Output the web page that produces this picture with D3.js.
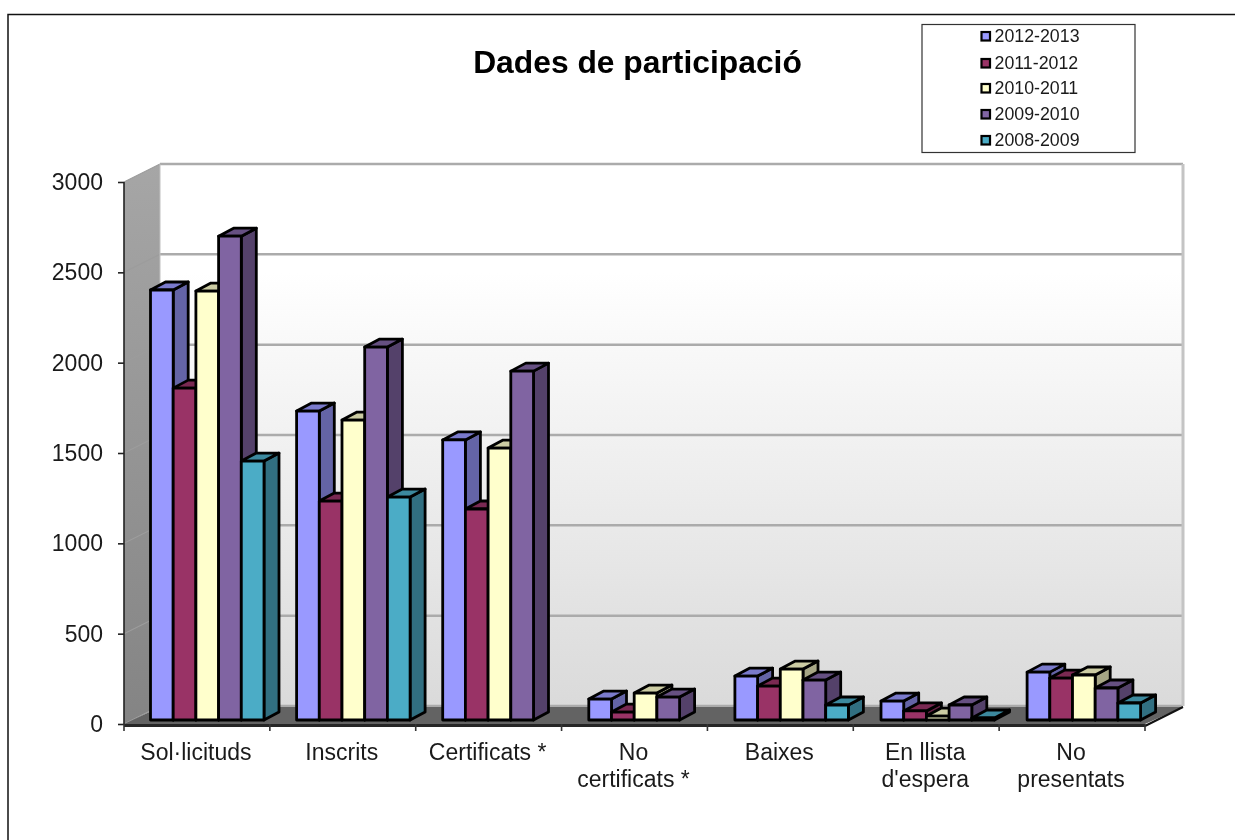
<!DOCTYPE html>
<html><head><meta charset="utf-8">
<script src="https://cdnjs.cloudflare.com/ajax/libs/d3/7.8.5/d3.min.js"></script>
<style>html,body{margin:0;padding:0;background:#fff;overflow:hidden}svg{display:block;filter:blur(0.35px)}text{font-family:"Liberation Sans",Arial,sans-serif;fill:#1a1a1a}</style>
</head><body><svg id="c" width="1235" height="840"></svg>
<script>
const categories = ["Sol·licituds","Inscrits","Certificats *","No certificats *","Baixes","En llista d'espera","No presentats"];
const categoryLines = [["Sol·licituds"],["Inscrits"],["Certificats *"],["No","certificats *"],["Baixes"],["En llista","d'espera"],["No","presentats"]];
const seriesNames = ["2012-2013","2011-2012","2010-2011","2009-2010","2008-2009"];
const s2012 = [2380,1710,1550,116,243,105,265];
const s2011 = [1837,1212,1168,44,188,50,232];
const s2010 = [2374,1660,1505,149,282,22,249];
const s2009 = [2678,2064,1931,127,221,83,177];
const s2008 = [1433,1234,null,null,83,11,94];
const seriesValues = [s2012,s2011,s2010,s2009,s2008];
const frontColors = ["#9999ff","#993366","#ffffcc","#8064a2","#4bacc6"];
const topColors = ["#7a7acc","#7a2952","#cccca3","#665082","#3c899e"];
const sideColors = ["#6464a6","#642142","#a6a685","#54416a","#316f81"];
const ticks = [0,500,1000,1500,2000,2500,3000];

const svg = d3.select("#c");
const defs = svg.append("defs");
const wg = defs.append("linearGradient").attr("id","wall").attr("x1",0).attr("x2",0).attr("y1",0).attr("y2",1);
wg.append("stop").attr("offset","0").attr("stop-color","#ffffff");
wg.append("stop").attr("offset","0.2").attr("stop-color","#ffffff");
wg.append("stop").attr("offset","1").attr("stop-color","#dadada");
const lg = defs.append("linearGradient").attr("id","side").attr("x1",0).attr("x2",0).attr("y1",0).attr("y2",1);
lg.append("stop").attr("offset","0").attr("stop-color","#a6a6a6");
lg.append("stop").attr("offset","1").attr("stop-color","#848484");

const ax0 = 124, ax1 = 1145, DX = 36, DY = 18;
const y = d3.scaleLinear().domain([0,3000]).range([724,182]);
const x = d3.scaleBand().domain(categories).range([ax0,ax1]).paddingInner(0).paddingOuter(0);
const xBars = d3.scaleBand().domain(categories).range([150.5,150.5+7*146.1]);
const barBase = 720, barDX = 15, barDY = 8;
const inner = d3.scaleBand().domain(d3.range(5)).range([0,113.5]);
const h = v => y(0) - y(v);

// outer frame
svg.append("path").attr("d","M8,840V14.5H1235").attr("fill","none").attr("stroke","#111").attr("stroke-width",1.5);

// title
svg.append("text").attr("x",637.5).attr("y",73).attr("text-anchor","middle").attr("font-size",31.8).attr("font-weight","bold").style("fill","#000").text("Dades de participació");

// walls
const top3 = y(3000), bot = y(0);
const wr = ax1+DX+2;
svg.append("polygon").attr("points",[[ax0+DX,top3-DY],[wr,top3-DY],[wr,bot-DY],[ax0+DX,bot-DY]].join(" ")).attr("fill","url(#wall)");
svg.append("polygon").attr("points",[[ax0,top3],[ax0+DX,top3-DY],[ax0+DX,bot-DY],[ax0,bot]].join(" ")).attr("fill","url(#side)");
// gridlines
ticks.forEach(t=>{
  const yy = y(t)-DY;
  svg.append("line").attr("x1",ax0+DX).attr("x2",wr).attr("y1",yy).attr("y2",yy).attr("stroke","#ababab").attr("stroke-width",2.5);
  svg.append("line").attr("x1",ax0).attr("x2",ax0+DX).attr("y1",y(t)).attr("y2",yy).attr("stroke","#9c9c9c").attr("stroke-width",1.2);
});
svg.append("line").attr("x1",wr).attr("x2",wr).attr("y1",top3-DY).attr("y2",bot-DY).attr("stroke","#c4c4c4").attr("stroke-width",3);
svg.append("line").attr("x1",ax0+DX).attr("x2",ax0+DX).attr("y1",top3-DY).attr("y2",bot-DY).attr("stroke","#c0c0c0").attr("stroke-width",1);
// floor
svg.append("polygon").attr("points",[[ax0,bot],[ax0+DX,bot-DY+1],[wr,bot-DY+1],[ax1,bot]].join(" ")).attr("fill","#636363");
svg.append("rect").attr("x",ax0).attr("y",bot).attr("width",ax1-ax0).attr("height",3).attr("fill","#262626");
svg.append("line").attr("x1",ax1).attr("x2",wr).attr("y1",bot+2).attr("y2",bot-DY+1).attr("stroke","#111").attr("stroke-width",2);

// bars
const bars = svg.append("g").attr("stroke","#000").attr("stroke-width",2.8).attr("stroke-linejoin","round");
categories.forEach((c,ci)=>{
  seriesValues.forEach((vals,si)=>{
    const v = vals[ci];
    if(v===null) return;
    const x0 = xBars(c)+inner(si), w = inner.bandwidth(), yt = barBase-h(v);
    bars.append("polygon").attr("points",[[x0+w,yt],[x0+w+barDX,yt-barDY],[x0+w+barDX,barBase-barDY],[x0+w,barBase]].join(" ")).attr("fill",sideColors[si]);
    bars.append("polygon").attr("points",[[x0,yt],[x0+barDX,yt-barDY],[x0+w+barDX,yt-barDY],[x0+w,yt]].join(" ")).attr("fill",topColors[si]);
    bars.append("rect").attr("x",x0).attr("y",yt).attr("width",w).attr("height",barBase-yt).attr("fill",frontColors[si]);
  });
});

// axes
const yAxis = d3.axisLeft(y).tickValues(ticks).tickFormat(d3.format("d")).tickSize(6).tickPadding(15);
const ga = svg.append("g").attr("transform",`translate(${ax0},0)`).call(yAxis);
ga.selectAll("path,line").attr("stroke","#222").attr("stroke-width",1.6);
ga.select(".domain").attr("d",`M0,${top3}V${bot}`);
ga.selectAll("text").attr("font-size",23).style("font-family",'"Liberation Sans"').style("fill","#1a1a1a");
const xt = [...categories.map(c=>x(c)),ax1];
svg.selectAll(".xt").data(xt).join("line").attr("x1",d=>d).attr("x2",d=>d).attr("y1",bot).attr("y2",bot+7).attr("stroke","#333").attr("stroke-width",1.6);
categoryLines.forEach((ls,i)=>{
  const t = svg.append("text").attr("text-anchor","middle").attr("font-size",23);
  ls.forEach((l,j)=>t.append("tspan").attr("x",x(categories[i])+x.bandwidth()/2-1).attr("y",760+j*27).text(l));
});

// legend
svg.append("rect").attr("x",922).attr("y",24.5).attr("width",213).attr("height",128).attr("fill","#fff").attr("stroke","#333").attr("stroke-width",1.2);
const ly = [36,63,88,114,140];
seriesNames.forEach((n,i)=>{
  svg.append("rect").attr("x",981.5).attr("y",ly[i]-4).attr("width",8.5).attr("height",8.5).attr("fill",frontColors[i]).attr("stroke","#000").attr("stroke-width",2.2);
  svg.append("text").attr("x",994.5).attr("y",ly[i]+6).attr("font-size",17.8).text(n);
});
</script></body></html>
